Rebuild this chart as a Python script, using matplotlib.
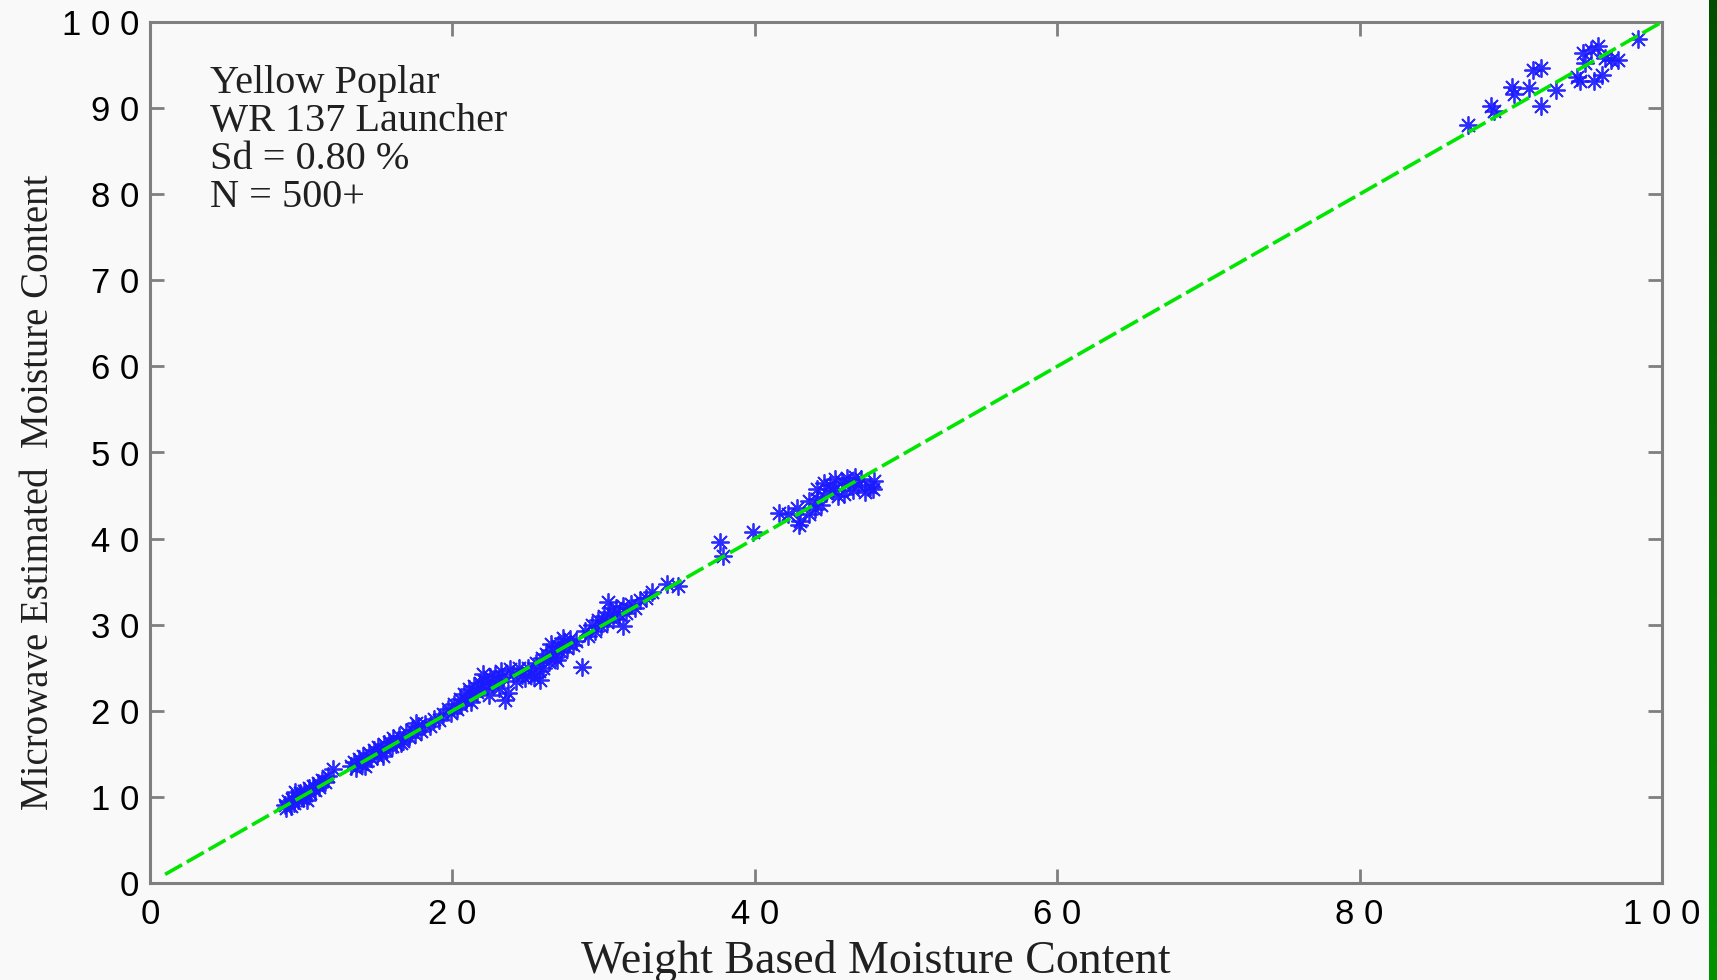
import matplotlib
matplotlib.use("Agg")
import matplotlib.pyplot as plt
import numpy as np
from matplotlib.ticker import FixedLocator, FixedFormatter

plt.rcParams["lines.scale_dashes"] = False

# ---- measured moisture content pairs (weight based %, microwave estimated %) ----
cluster_09_12 = [
    (8.9, 9.1), (9.0, 8.7), (9.1, 9.5), (9.3, 9.0), (9.4, 9.8), (9.5, 9.3),
    (9.7, 10.1), (9.8, 9.6), (9.9, 10.4), (10.1, 9.9), (10.2, 10.7), (10.3, 10.2),
    (10.5, 11.0), (10.6, 10.5), (10.8, 11.3), (10.9, 10.8), (11.1, 11.6), (11.2, 11.1),
    (11.4, 12.0), (11.6, 11.7), (11.8, 12.4), (12.1, 13.2), (9.6, 10.6), (10.4, 9.6),
]
cluster_13_19 = [
    (13.3, 13.6), (13.5, 14.1), (13.6, 13.4), (13.8, 14.4), (14.0, 13.8), (14.1, 14.8),
    (14.3, 14.2), (14.5, 15.1), (14.6, 14.5), (14.8, 15.4), (15.0, 14.8), (15.1, 15.8),
    (15.3, 15.2), (15.5, 16.1), (15.6, 15.5), (15.8, 16.4), (16.0, 15.9), (16.1, 16.8),
    (16.3, 16.2), (16.5, 17.1), (16.7, 16.5), (16.9, 17.5), (17.1, 17.0), (17.3, 17.8),
    (17.5, 17.3), (17.7, 18.2), (17.9, 17.7), (18.2, 18.5), (18.5, 18.2), (18.8, 19.1),
    (19.1, 18.9), (19.4, 19.6), (14.2, 13.6), (15.4, 14.8), (16.6, 16.3), (17.6, 18.6),
]
cluster_20_24 = [
    (19.7, 20.2), (19.9, 19.7), (20.1, 20.8), (20.3, 20.2), (20.5, 21.4), (20.6, 20.7),
    (20.8, 22.0), (20.9, 21.2), (21.1, 22.5), (21.3, 21.7), (21.4, 22.9), (21.6, 22.2),
    (21.8, 23.2), (21.9, 22.6), (22.1, 23.5), (22.3, 22.9), (22.5, 23.9), (22.6, 23.2),
    (22.8, 24.2), (23.0, 23.6), (23.2, 24.6), (23.3, 23.9), (23.5, 21.2), (23.7, 22.1),
    (23.8, 24.9), (24.0, 24.3), (24.2, 23.5), (24.4, 25.0), (22.4, 21.8), (21.2, 21.0),
    (23.1, 22.6), (22.0, 24.3),
]
cluster_25_28 = [
    (24.6, 24.2), (24.8, 23.8), (25.0, 25.0), (25.2, 24.3), (25.4, 23.9), (25.5, 25.5),
    (25.7, 24.6), (25.9, 26.1), (26.0, 25.0), (26.2, 26.6), (26.4, 25.7), (26.6, 27.1),
    (26.8, 26.3), (27.0, 27.5), (27.2, 26.8), (27.4, 28.0), (27.6, 27.3), (27.8, 28.3),
    (28.0, 27.6), (28.2, 28.1), (28.6, 25.1), (26.5, 27.8), (27.3, 28.5), (25.8, 23.6),
    (26.9, 25.9),
]
cluster_29_35 = [
    (28.8, 29.3), (29.0, 28.7), (29.2, 30.0), (29.4, 29.3), (29.6, 30.5), (29.8, 29.8),
    (30.0, 31.0), (30.2, 30.3), (30.4, 31.5), (30.6, 30.7), (30.8, 31.9), (31.0, 31.2),
    (31.3, 29.8), (31.3, 32.2), (31.5, 31.4), (31.8, 32.4), (32.1, 31.9), (32.4, 32.9),
    (32.8, 33.1), (33.2, 33.8), (34.2, 34.7), (34.9, 34.5), (30.3, 32.6),
]
cluster_38_44 = [
    (37.7, 39.6), (37.9, 38.0), (39.9, 40.8), (41.6, 43.0), (42.8, 43.6),
    (43.0, 42.1), (43.6, 42.8), (42.9, 41.6), (42.2, 42.9),
]
cluster_44_48 = [
    (44.1, 45.8), (44.1, 44.6), (45.0, 46.2), (46.1, 47.0), (46.8, 46.2), (47.6, 46.0),
    (45.5, 44.9), (44.7, 45.3), (46.5, 45.6), (44.4, 43.9), (45.2, 45.6), (45.8, 46.6),
    (47.0, 46.9), (47.8, 45.8), (46.2, 46.4), (45.3, 46.9), (44.6, 46.4), (47.3, 45.4),
    (44.0, 43.4), (43.6, 44.4), (46.6, 47.1), (47.9, 46.7), (45.9, 45.2),
]
cluster_87_98 = [
    (87.2, 88.0), (88.7, 90.2), (88.9, 89.7), (90.1, 92.4), (90.2, 91.6), (91.2, 92.3),
    (91.5, 94.4), (92.0, 94.6), (92.0, 90.3), (93.0, 92.1), (94.4, 93.6), (94.6, 93.2),
    (94.8, 96.4), (94.9, 95.2), (95.3, 96.8), (95.5, 93.1), (95.8, 97.2), (96.0, 93.8),
    (96.2, 95.8), (96.6, 95.6), (97.1, 95.6), (98.4, 98.0),
]

# one-to-one reference line
ref_x = [1, 100]
ref_y = [1, 100]

x_ticks = [0, 20, 40, 60, 80, 100]
x_tick_labels = ["0", "2 0", "4 0", "6 0", "8 0", "1 0 0"]
y_ticks = [0, 10, 20, 30, 40, 50, 60, 70, 80, 90, 100]
y_tick_labels = ["0", "1 0", "2 0", "3 0", "4 0", "5 0", "6 0", "7 0", "8 0", "9 0", "1 0 0"]

info_lines = ["Yellow Poplar", "WR 137 Launcher", "Sd = 0.80 %", "N = 500+"]

# ---- figure ----
W, H = 1717, 980
bg = "#f9f9f9"
frame = "#7f7f7f"
fig = plt.figure(figsize=(W / 100, H / 100), dpi=100, facecolor=bg)
ax = fig.add_axes([150 / W, 1 - 883 / H, (1662 - 150) / W, (883 - 22) / H])
ax.set_facecolor(bg)

pts = np.array(cluster_09_12 + cluster_13_19 + cluster_20_24 + cluster_25_28
               + cluster_29_35 + cluster_38_44 + cluster_44_48 + cluster_87_98)
ax.plot(pts[:, 0], pts[:, 1], linestyle="none", marker=(8, 2, 0), markersize=13,
        markeredgecolor="#1a1aff", markeredgewidth=1.3, alpha=0.92, zorder=2)
ax.plot(ref_x, ref_y, color="#00e600", linewidth=2.6, dashes=(14, 4), zorder=3)

ax.set_xlim(0, 100)
ax.set_ylim(0, 100)

ax.xaxis.set_major_locator(FixedLocator(x_ticks))
ax.xaxis.set_major_formatter(FixedFormatter(x_tick_labels))
ax.yaxis.set_major_locator(FixedLocator(y_ticks))
ax.yaxis.set_major_formatter(FixedFormatter(y_tick_labels))

for s in ax.spines.values():
    s.set_color(frame)
    s.set_linewidth(2.2)

ax.tick_params(direction="in", length=10, width=2, color=frame,
               top=True, right=True, labelcolor="black")
ax.tick_params(axis="x", pad=11)
ax.tick_params(axis="y", pad=8)
for lab in ax.get_xticklabels():
    lab.set_fontfamily("Liberation Sans")
    lab.set_fontsize(25)
for lab in ax.get_yticklabels():
    lab.set_fontfamily("Liberation Sans")
    lab.set_fontsize(25)

ax.set_xlabel("Weight Based Moisture Content", family="Liberation Serif",
              fontsize=33, color="#202020")
ax.xaxis.set_label_coords(0.48, -0.091)
ax.xaxis.label.set_va("center")

ax.set_ylabel("Microwave Estimated  Moisture Content", family="Liberation Serif",
              fontsize=28, color="#202020")
ax.yaxis.set_label_coords(-0.074, 0.454)
ax.yaxis.label.set_va("center")

for i, line in enumerate(info_lines):
    ax.text(0.0397, 0.929 - i * 0.0443, line, transform=ax.transAxes,
            family="Liberation Serif", fontsize=29, color="#202020",
            ha="left", va="center")

# dark green edge strip on the right
gax = fig.add_axes([1709 / W, 0, 8 / W, 1])
shade = np.linspace(0.31, 0.58, 256)
strip = np.zeros((256, 1, 3))
strip[:, 0, 1] = shade
gax.imshow(strip, aspect="auto")
gax.axis("off")

fig.savefig("out.png", dpi=100, facecolor=bg)
